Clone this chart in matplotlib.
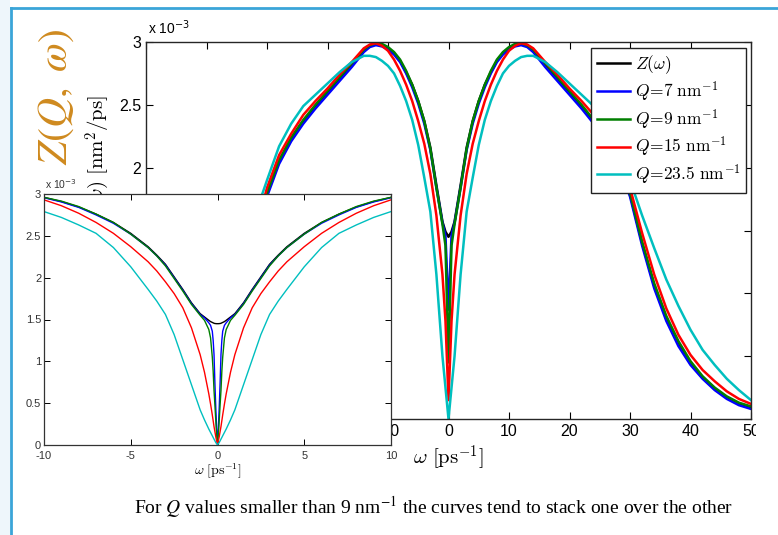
import matplotlib
matplotlib.use('Agg')
import matplotlib.pyplot as plt
from matplotlib.patches import Rectangle
from matplotlib.lines import Line2D
import numpy as np

plt.rcParams['font.family'] = 'Liberation Sans'
plt.rcParams['mathtext.fontset'] = 'cm'
plt.rcParams['axes.unicode_minus'] = False

# Z(Q, w) in units of 1e-3 nm^2/ps for w >= 0.
# The spectra are even in w, so the negative side is the mirror image.
w_main = [0, 0.5, 1, 2, 3, 4, 5, 6, 7, 8, 9, 10, 11, 12, 13, 14, 16, 18, 20,
          22, 24, 26, 28, 30, 32, 34, 36, 38, 40, 42, 44, 46, 48, 50]
z_main = [1.45, 1.49, 1.57, 1.86, 2.16, 2.37, 2.53, 2.66, 2.76, 2.85, 2.91, 2.95, 2.975, 2.985, 2.97, 2.93, 2.82,
          2.71, 2.60, 2.49, 2.37, 2.23, 2.05, 1.79, 1.40, 1.06, 0.80, 0.60, 0.44, 0.33, 0.24, 0.17, 0.12, 0.09]
q7_main = [0.87, 1.46, 1.56, 1.84, 2.14, 2.35, 2.51, 2.64, 2.75, 2.84, 2.90, 2.94, 2.965, 2.975, 2.96, 2.92, 2.80,
           2.69, 2.58, 2.47, 2.35, 2.21, 2.03, 1.77, 1.38, 1.04, 0.78, 0.58, 0.43, 0.32, 0.23, 0.16, 0.11, 0.08]
q9_main = [0.45, 1.38, 1.55, 1.84, 2.15, 2.37, 2.53, 2.66, 2.77, 2.86, 2.92, 2.96, 2.985, 2.99, 2.975, 2.94, 2.83,
           2.72, 2.61, 2.50, 2.38, 2.24, 2.06, 1.80, 1.41, 1.08, 0.82, 0.62, 0.46, 0.34, 0.25, 0.18, 0.13, 0.10]
q15_main = [0.15, 0.78, 1.15, 1.62, 1.95, 2.19, 2.37, 2.53, 2.66, 2.77, 2.86, 2.93, 2.97, 2.99, 2.98, 2.95, 2.84,
            2.74, 2.63, 2.53, 2.42, 2.27, 2.10, 1.84, 1.48, 1.15, 0.88, 0.67, 0.51, 0.39, 0.30, 0.22, 0.16, 0.12]
q235_main = [0.00, 0.25, 0.50, 1.15, 1.65, 1.92, 2.18, 2.38, 2.53, 2.65, 2.75, 2.81, 2.85, 2.88, 2.89, 2.89, 2.84,
             2.76, 2.67, 2.58, 2.49, 2.35, 2.17, 1.90, 1.62, 1.36, 1.11, 0.90, 0.71, 0.55, 0.43, 0.32, 0.23, 0.15]

# inset, finer sampling around w = 0
w_ins = [0, 0.05, 0.1, 0.15, 0.2, 0.25, 0.3, 0.4, 0.5, 0.75, 1, 1.5, 2, 2.5, 3, 3.5, 4, 5, 6, 7, 8, 9, 10]
z_ins = [1.45, 1.45, 1.451, 1.452, 1.455, 1.46, 1.465, 1.475, 1.49, 1.53, 1.57, 1.70,
         1.86, 2.01, 2.16, 2.27, 2.37, 2.53, 2.66, 2.76, 2.845, 2.91, 2.96]
q7_ins = [0.02, 0.20, 0.45, 0.74, 1.08, 1.25, 1.36, 1.43, 1.46, 1.52, 1.56, 1.69,
          1.85, 2.00, 2.15, 2.26, 2.36, 2.52, 2.65, 2.75, 2.84, 2.905, 2.955]
q9_ins = [0.02, 0.12, 0.30, 0.48, 0.65, 0.88, 1.05, 1.28, 1.38, 1.49, 1.55, 1.68,
          1.84, 1.99, 2.14, 2.26, 2.36, 2.52, 2.66, 2.76, 2.85, 2.915, 2.96]
q15_ins = [0.02, 0.05, 0.10, 0.16, 0.22, 0.29, 0.36, 0.49, 0.61, 0.87, 1.08, 1.40,
           1.64, 1.81, 1.95, 2.08, 2.19, 2.37, 2.53, 2.66, 2.77, 2.86, 2.93]
q235_ins = [0.00, 0.015, 0.03, 0.05, 0.07, 0.09, 0.11, 0.15, 0.19, 0.30, 0.42, 0.72,
            1.02, 1.32, 1.56, 1.72, 1.86, 2.13, 2.36, 2.53, 2.63, 2.72, 2.79]

labels = [r'$Z(\omega)$', r'$Q\!=\!7\ \mathrm{nm}^{-1}$', r'$Q\!=\!9\ \mathrm{nm}^{-1}$',
          r'$Q\!=\!15\ \mathrm{nm}^{-1}$', r'$Q\!=\!23.5\ \mathrm{nm}^{-1}$']
colors = ['k', '#0000ff', '#007f00', '#ff0000', '#00bfbf']


def mirror(w, v):
    w = np.asarray(w, dtype=float)
    v = np.asarray(v, dtype=float)
    return np.concatenate([-w[:0:-1], w]), np.concatenate([v[:0:-1], v])


W, H = 778, 535
fig = plt.figure(figsize=(W / 100, H / 100), dpi=100)


def fbox(x0, y0, x1, y1):
    # pixel box (top-left origin) -> figure fraction [l, b, w, h]
    return [x0 / W, 1 - y1 / H, (x1 - x0) / W, (y1 - y0) / H]


# main panel
ax = fig.add_axes(fbox(146, 42, 751, 419))
ax.set_zorder(1)
for ys, c, lab in zip([z_main, q7_main, q9_main, q15_main, q235_main], colors, labels):
    x, y = mirror(w_main, ys)
    ax.plot(x, y, color=c, lw=1.8, label=lab)
ax.set_xlim(-50, 50)
ax.set_ylim(0, 3)
xt = list(range(-50, 51, 10))
yt = np.arange(0, 3.01, 0.5)
ax.set_xticks(xt)
# labels that sit under the pasted inset are left blank
ax.set_xticklabels(['' if t < -10 else '%d' % t for t in xt])
ax.set_yticks(yt)
ax.set_yticklabels(['' if t < 2 else '%g' % t for t in yt])
ax.tick_params(direction='in', top=True, right=True, length=5, labelsize=11.5, width=0.8)
for s in ax.spines.values():
    s.set_color('#262626')
    s.set_linewidth(1.0)
ax.text(0.003, 1.012, r'x 10$^{-3}$', transform=ax.transAxes, fontsize=10,
        ha='left', va='bottom', math_fontfamily='dejavusans')
ax.set_xlabel(r'$\omega\ [\mathrm{ps}^{-1}]$', fontsize=15, labelpad=3)
ax.set_ylabel(r'$Z(Q,\omega)\ [\mathrm{nm}^2/\mathrm{ps}]$', fontsize=15)
ax.yaxis.set_label_coords(-0.056, 0.655)
ax.legend(loc='upper right', bbox_to_anchor=(0.992, 0.984), borderaxespad=0,
          fontsize=12.5, frameon=True, fancybox=False, edgecolor='#222222',
          framealpha=1, handlelength=1.9, handletextpad=0.3, labelspacing=0.2,
          borderpad=0.32)

# white backdrop of the pasted inset
fig.add_artist(Rectangle((20 / W, 1 - 480 / H), (391 - 20) / W, (480 - 194) / H,
                         transform=fig.transFigure, facecolor='white',
                         edgecolor='none', zorder=2))

# inset
axi = fig.add_axes(fbox(44, 194, 391, 445))
axi.set_zorder(3)
for ys, c in zip([z_ins, q7_ins, q9_ins, q15_ins, q235_ins], colors):
    x, y = mirror(w_ins, ys)
    axi.plot(x, y, color=c, lw=1.0)
axi.set_xlim(-10, 10)
axi.set_ylim(0, 3)
axi.set_xticks([-10, -5, 0, 5, 10])
axi.set_yticks(yt)
axi.set_yticklabels(['%g' % t for t in yt])
axi.tick_params(direction='in', top=True, right=True, length=4, labelsize=8,
                labelcolor='#333333', width=0.7)
axi.tick_params(axis='x', pad=4)
axi.tick_params(axis='y', pad=2)
for s in axi.spines.values():
    s.set_color('#333333')
    s.set_linewidth(0.9)
axi.text(0.003, 1.01, r'x 10$^{-3}$', transform=axi.transAxes, fontsize=7.5,
         color='#333333', ha='left', va='bottom', math_fontfamily='dejavusans')
axi.set_xlabel(r'$\omega\ [\mathrm{ps}^{-1}]$', fontsize=10, labelpad=1)

# slide decoration
fig.add_artist(Rectangle((0, 0), 10 / W, 1, transform=fig.transFigure,
                         facecolor='#eef6fb', edgecolor='none', zorder=4))
fig.add_artist(Rectangle((756 / W, 0), (W - 756) / W, 1 - 12 / H, transform=fig.transFigure,
                         facecolor='white', edgecolor='none', zorder=4))
fig.add_artist(Line2D([11 / W, 11 / W], [0, 1 - 8 / H], transform=fig.transFigure,
                      color='#3aa5d8', lw=2, zorder=5))
fig.add_artist(Line2D([11 / W, 1], [1 - 8 / H, 1 - 8 / H], transform=fig.transFigure,
                      color='#3aa5d8', lw=2, zorder=5))

fig.text(56 / W, 1 - 97 / H, r'$Z(Q,\ \omega)$', rotation=90, color='#cf8a1f',
         fontsize=30, ha='center', va='center', math_fontfamily='stix', zorder=5)
fig.text(434 / W, 1 - 507 / H,
         r'For $Q$ values smaller than 9 nm$^{-1}$ the curves tend to stack one over the other',
         family='Liberation Serif', fontsize=14, ha='center', va='center',
         math_fontfamily='stix', zorder=5)

fig.savefig('out.png', dpi=100)
